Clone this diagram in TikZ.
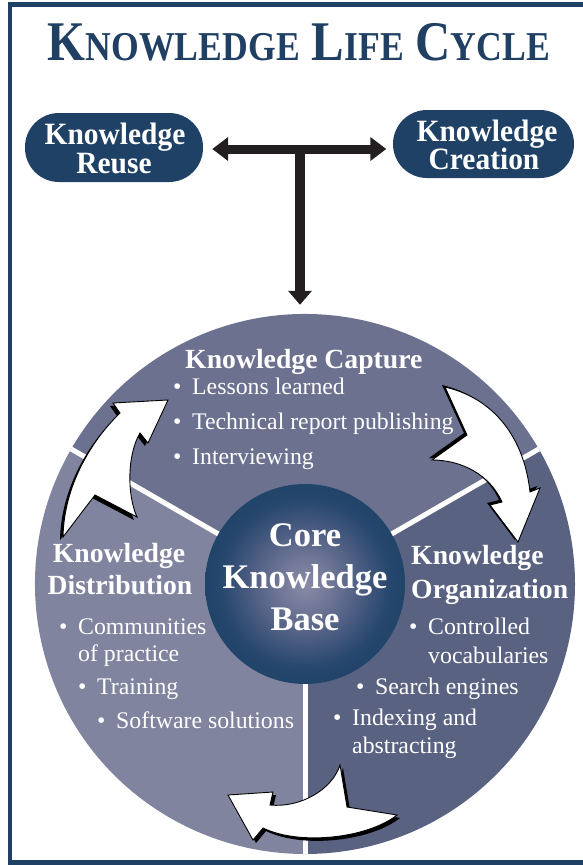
\documentclass[tikz,border=0pt]{standalone}
\usepackage{fontspec}
\setmainfont{Liberation Serif}
\newfontfamily\condfont[FakeStretch=0.95]{Liberation Serif}
\newfontfamily\titlefont[FakeStretch=0.87]{Liberation Serif}
\usetikzlibrary{arrows.meta}
\definecolor{navy}{HTML}{1F4166}
\definecolor{titlec}{HTML}{1F3F63}
\definecolor{secTop}{HTML}{6C718F}
\definecolor{secLeft}{HTML}{80849E}
\definecolor{secRight}{HTML}{5A6282}
\definecolor{kbA}{HTML}{8A8CA6}
\definecolor{kbB}{HTML}{6E7596}
\definecolor{kbC}{HTML}{46597E}
\definecolor{kbD}{HTML}{27476D}
\definecolor{kbE}{HTML}{214469}
\definecolor{tblack}{HTML}{231F20}
\pgfdeclareradialshading{kbshade}{\pgfpoint{0bp}{0bp}}{color(0bp)=(kbA); color(7bp)=(kbB); color(15bp)=(kbC); color(21bp)=(kbD); color(25bp)=(kbE); color(50bp)=(kbE)}
\newcommand\bul{\makebox[19pt][l]{\textbullet}}
\tikzset{
  body/.style={text=white, inner sep=0pt, anchor=base west, font=\fontsize{23.8}{28}\selectfont},
  head/.style={text=white, inner sep=0pt, anchor=base west, font=\bfseries\fontsize{27.7}{33}\selectfont},
  ctr/.style={text=white, inner sep=0pt, anchor=base, font=\bfseries\fontsize{34.5}{40}\selectfont},
  oval/.style={fill=navy, rounded corners=34pt, inner sep=0pt},
  ovtext/.style={text=white, inner sep=0pt, anchor=base, font=\condfont\bfseries\fontsize{31}{28}\selectfont},
  tbar/.style={draw=tblack, line width=9pt},
  warrow/.style={fill=white, draw=black, line width=0.9pt, line join=miter},
  pathA/.style={insert path={(63,537) -- (95,495) -- (137,517) .. controls (127,495) and (127,455) .. (140,433) -- (148,443) -- (168,400) -- (113,403) -- (120,413) .. controls (92,440) and (64,485) .. (63,537) -- cycle}},
  pathB/.style={insert path={(445,387) -- (467,435) -- (432,460) .. controls (462,460) and (490,475) .. (502,502) -- (490,505) -- (518,542) -- (540,488) -- (530,492) .. controls (525,445) and (500,400) .. (445,387) -- cycle}},
  pathC/.style={insert path={(340,765) -- (347,807) -- (397,815) .. controls (368,838) and (300,846) .. (263,828) -- (253,840) -- (228,795) -- (273,792) -- (270,805) .. controls (300,808) and (332,790) .. (340,765) -- cycle}}
}
\begin{document}
\begin{tikzpicture}[x=1pt,y=-1pt]
\useasboundingbox (0,0) rectangle (583,865);
% frame
\draw[navy, line width=4.5pt] (583,4.5) -- (10,4.5) -- (10,862.5) -- (583,862.5);
% title
\node[anchor=base, inner sep=0pt, text=titlec] (title) at (299,60) {\titlefont\bfseries\fontsize{56}{56}\selectfont K\fontsize{41}{41}\selectfont NOWLEDGE\hspace{12pt}\fontsize{56}{56}\selectfont L\fontsize{41}{41}\selectfont IFE\hspace{12pt}\fontsize{56}{56}\selectfont C\fontsize{41}{41}\selectfont YCLE};
% ovals
\node[oval, minimum width=178pt, minimum height=69pt] (reuse) at (114,147.5) {};
\node[oval, minimum width=181pt, minimum height=68pt] (creation) at (483.5,144) {};
\node[ovtext] (reuse1) at (115,144) {Knowledge};
\node[ovtext] (reuse2) at (114,173) {Reuse};
\node[ovtext] (cre1) at (487,141) {Knowledge};
\node[ovtext] (cre2) at (484,169) {Creation};
% big circle
\coordinate (C) at (305,584);
\node[circle, minimum size=540pt, inner sep=0pt] (big) at (C) {};
\fill[secTop] (C) -- ++(-30:270) arc[start angle=-30, end angle=-150, radius=270] -- cycle;
\fill[secLeft] (C) -- ++(-150:270) arc[start angle=-150, end angle=-270, radius=270] -- cycle;
\fill[secRight] (C) -- ++(-270:270) arc[start angle=-270, end angle=-390, radius=270] -- cycle;
\draw[white, line width=5pt] (C) -- ++(-30:270);
\draw[white, line width=5pt] (C) -- ++(-150:270);
\draw[white, line width=5pt] (C) -- ++(90:270);
\node[circle, minimum size=200pt, inner sep=0pt, shade, shading=kbshade] (kb) at (C) {};
% T arrow
\coordinate (tj) at (300,149);
\draw[tbar, {Triangle[length=16pt,width=23pt]}-{Triangle[length=16pt,width=23pt]}, shorten <=9pt, shorten >=6.5pt] (reuse.east |- tj) -- (creation.west |- tj);
\draw[tbar, line width=10pt, -{Triangle[length=14pt,width=23pt]}, shorten >=9pt] (tj) -- (tj |- big.north);
% curved arrows
\begin{scope}[shift={(-3,3)}]\fill[black, pathA];\end{scope}
\filldraw[warrow, pathA];
\begin{scope}[shift={(-3,-2)}]\fill[black, pathB];\end{scope}
\filldraw[warrow, pathB];
\begin{scope}[shift={(3,3)}]\fill[black, pathC];\end{scope}
\filldraw[warrow, pathC];
% capture
\node[head] (capH) at (185,368) {Knowledge Capture};
\node[body] (cap1) at (173,394) {\bul Lessons learned};
\node[body] (cap2) at (173,429) {\bul Technical report publishing};
\node[body] (cap3) at (173,464) {\bul Interviewing};
% distribution
\node[head, anchor=base] (disH1) at (119,562) {Knowledge};
\node[head, anchor=base] (disH2) at (120,594) {Distribution};
\node[body] (dis1) at (59,634) {\bul Communities};
\node[body] (dis1b) at (78,661) {of practice};
\node[body] (dis2) at (78,694) {\bul Training};
\node[body] (dis3) at (97,728) {\bul Software solutions};
% organization
\node[head] (orgH1) at (411,564) {Knowledge};
\node[head] (orgH2) at (411,598) {Organization};
\node[body] (org1) at (409,634) {\bul Controlled};
\node[body] (org1b) at (428,663) {vocabularies};
\node[body] (org2) at (356,694) {\bul Search engines};
\node[body] (org3) at (333,725) {\bul Indexing and};
\node[body] (org3b) at (352,753) {abstracting};
% core
\node[ctr] (kb1) at (305,546) {Core};
\node[ctr] (kb2) at (305,588) {Knowledge};
\node[ctr] (kb3) at (305,630) {Base};
\end{tikzpicture}
\end{document}
